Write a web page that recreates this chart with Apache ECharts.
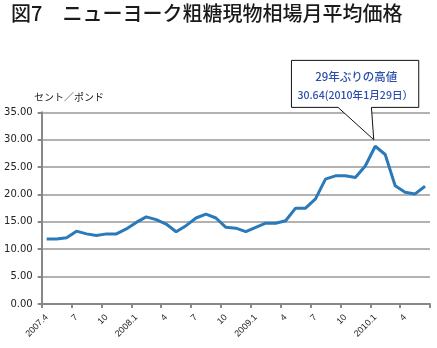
<!DOCTYPE html>
<html><head><meta charset="utf-8">
<script src="https://cdn.jsdelivr.net/npm/echarts@6/dist/echarts.min.js"></script>
<style>html,body{margin:0;padding:0;background:#fff}#c{width:437px;height:348px}</style>
</head><body><div id="c"></div>
<script>
var titleText = '図7　ニューヨーク粗糖現物相場月平均価格';
var unitText = 'セント／ポンド';
var categories = ['2007.4','5','6','7','8','9','10','11','12',
  '2008.1','2','3','4','5','6','7','8','9','10','11','12',
  '2009.1','2','3','4','5','6','7','8','9','10','11','12',
  '2010.1','2','3','4','5','6'];
var prices = [11.85,11.85,12.1,13.3,12.8,12.5,12.8,12.8,13.7,
  14.9,15.9,15.4,14.6,13.2,14.3,15.7,16.4,15.7,14.0,13.85,13.2,
  14.0,14.75,14.75,15.2,17.5,17.5,19.2,22.8,23.4,23.4,23.1,25.2,
  28.8,27.3,21.6,20.4,20.1,21.5];
var yTicks = [0,5,10,15,20,25,30,35];
var calloutLines = ['29年ぶりの高値','30.64(2010年1月29日）'];
var peakIndex = 33;
var calloutValue = 30;

var chart = echarts.init(document.getElementById('c'), null, {renderer:'canvas'});
var grid = {left:41.7, right:7, top:112.3, bottom:44};
chart.setOption({
  animation:false,
  grid: grid,
  xAxis: {
    type:'category', data:categories, boundaryGap:true,
    axisLine:{lineStyle:{color:'#888',width:2}},
    axisTick:{show:true, interval:2, length:4, lineStyle:{color:'#888',width:2}},
    axisLabel:{interval:2, rotate:45, fontSize:9, color:'#222', fontFamily:'Liberation Sans', margin:12},
    splitLine:{show:false}
  },
  yAxis: {
    type:'value', min:yTicks[0], max:yTicks[yTicks.length-1], interval:5,
    axisLine:{show:true, lineStyle:{color:'#888',width:2}},
    axisTick:{show:true, length:4, lineStyle:{color:'#888',width:2}},
    axisLabel:{formatter:function(v){return v.toFixed(2);}, fontSize:10, color:'#222', fontFamily:'DejaVu Sans', margin:9},
    splitLine:{show:true, lineStyle:{color:'#999', width:1.5}}
  },
  series: [{
    type:'line', data:prices, symbol:'none', smooth:false,
    lineStyle:{color:'#2a7ab9', width:3}, itemStyle:{color:'#2a7ab9'}
  }]
});

var tip = chart.convertToPixel({gridIndex:0}, [peakIndex, calloutValue]);
var tx = tip[0] - 1.5, ty = tip[1];
var pts = [[-82.3,-79.3],[45,-79.3],[45,-32.3],[-2.3,-32.3],[0,0],[-35.7,-32.3],[-82.3,-32.3]]
  .map(function(p){return [tx+p[0], ty+p[1]];});
chart.setOption({
  graphic: [
    {type:'text', left:11, top:3, style:{text:titleText, font:'500 20px "Noto Sans CJK JP"', fill:'#1a1a1a'}},
    {type:'text', x:34, y:97, style:{text:unitText, font:'10px "Noto Sans CJK JP"', fill:'#222', verticalAlign:'middle'}},
    {type:'polygon', shape:{points:pts}, style:{fill:'#fff', stroke:'#111', lineWidth:1}, z:100},
    {type:'text', x:tx-17.5, y:ty-63, z:101, style:{text:calloutLines[0], font:'500 11.5px "Noto Sans CJK JP"', fill:'#2b4fa8', align:'center', verticalAlign:'middle'}},
    {type:'text', x:tx-18.5, y:ty-45, z:101, style:{text:calloutLines[1], font:'500 10.6px "Noto Sans CJK JP"', fill:'#2b4fa8', align:'center', verticalAlign:'middle'}}
  ]
});
</script></body></html>
